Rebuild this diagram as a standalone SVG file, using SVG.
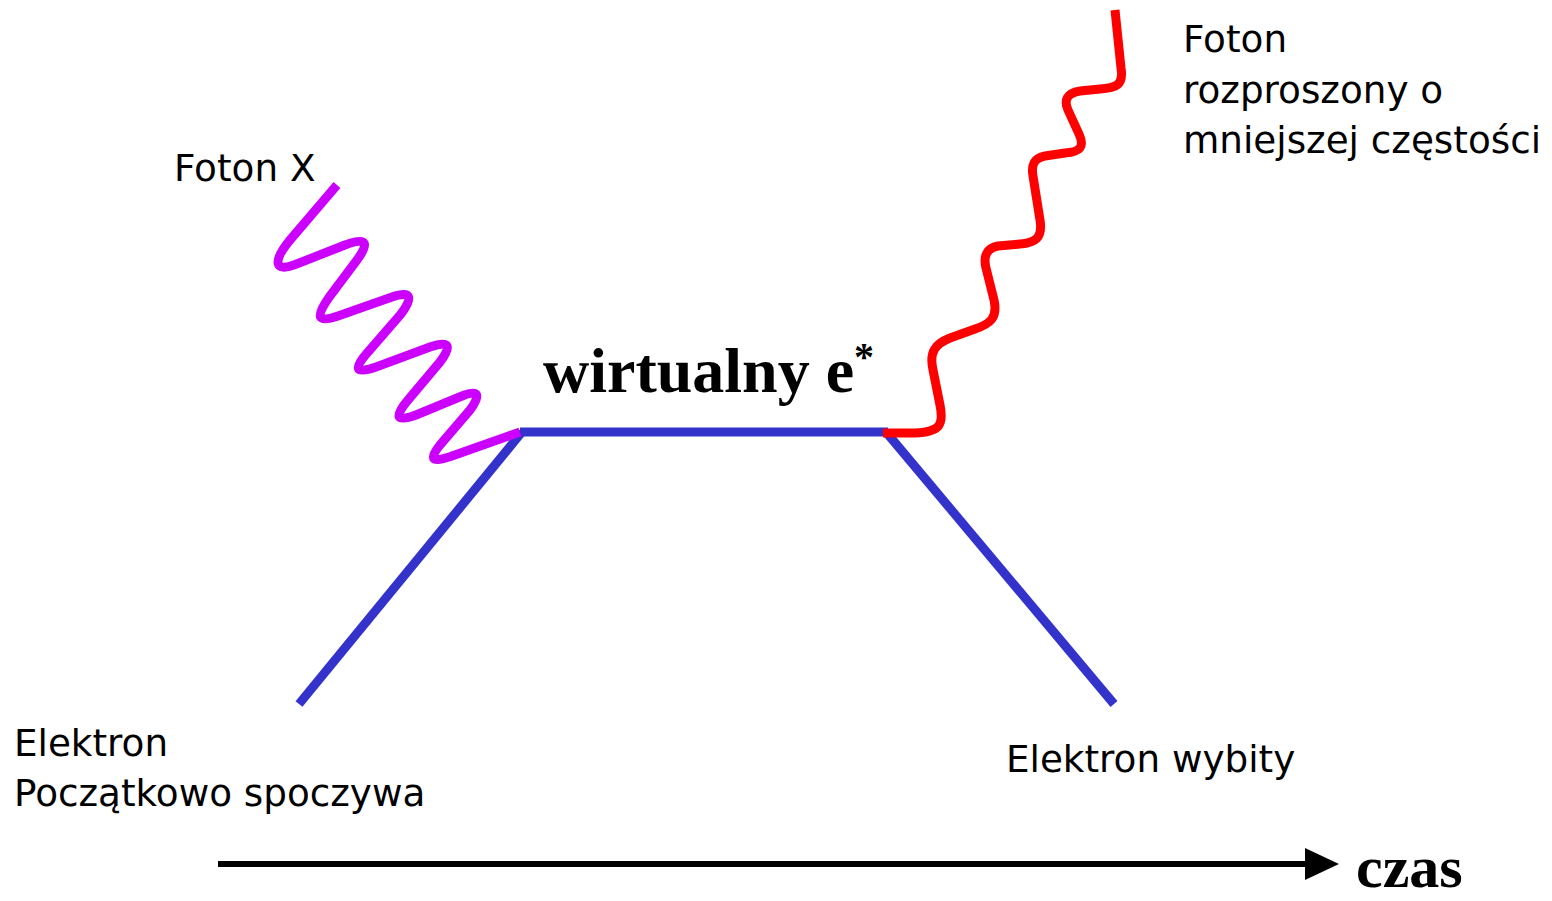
<svg xmlns="http://www.w3.org/2000/svg" width="1552" height="901" viewBox="0 0 1552 901">
<style>
.lbl{font-family:"DejaVu Sans",Verdana,sans-serif;font-size:37.3px;fill:#000}
.big{font-family:"Liberation Serif","Times New Roman",serif;font-weight:bold;fill:#000}
.e{fill:none;stroke:#3333CC;stroke-width:9}
.ph{fill:none;stroke-width:9;stroke-linecap:butt;stroke-linejoin:round}
</style>
<defs>
<marker id="ah" markerWidth="34" markerHeight="32" refX="0" refY="16" orient="auto" markerUnits="userSpaceOnUse">
<path d="M0,0 L34,16 L0,32 Z" fill="#000"/>
</marker>
</defs>
<rect width="1552" height="901" fill="#fff"/>
<g id="connectors">
<line id="e-in" class="e" x1="299" y1="704" x2="522" y2="432"/>
<line id="e-virtual" class="e" x1="520" y1="432" x2="888" y2="432"/>
<line id="e-out" class="e" x1="886" y1="432" x2="1114" y2="704"/>
<path id="photon-x" class="ph" stroke="#CC00FF" d="M337,185 L290,240 C272,262 275,272 294,265 L345,245 C368,236 369,244 357,260 L330,296 C314,318 318,323 338,316 L392,297 C412,290 413,298 401,314 L368,352 C352,370 356,374 376,367 L430,347 C450,340 452,346 440,362 L408,400 C393,418 397,422 416,415 L462,396 C479,389 481,395 470,410 L440,445 C428,460 432,463 452,456 L520,432"/>
<path id="photon-out" class="ph" stroke="#FF0000" d="M1115,10 L1121,68 C1124,86 1115,88 1100,89 L1080,91 C1066,93 1064,101 1068,110 L1079,134 C1085,147 1080,152 1065,153 L1045,156 C1034,158 1031,165 1033,176 L1040,220 C1043,238 1035,243 1020,244 L998,246 C987,248 983,256 986,268 L994,300 C998,318 990,324 975,329 L950,338 C935,344 929,352 933,370 L940,405 C944,425 940,432 915,433 L883,433"/>
<line id="time-axis" x1="218" y1="864" x2="1305" y2="864" stroke="#000" stroke-width="6" marker-end="url(#ah)"/>
</g>
<g id="label-foton-x"><text class="lbl" x="174" y="181">Foton X</text></g>
<g id="label-foton-out">
<text class="lbl" x="1183" y="52">Foton</text>
<text class="lbl" x="1183" y="103">rozproszony o</text>
<text class="lbl" x="1183" y="153">mniejszej częstości</text>
</g>
<g id="label-virtual"><text class="big" x="543" y="392" font-size="64">wirtualny e<tspan font-size="40" dy="-22">*</tspan></text></g>
<g id="label-e-in">
<text class="lbl" x="14" y="756">Elektron</text>
<text class="lbl" x="14" y="806">Początkowo spoczywa</text>
</g>
<g id="label-e-out"><text class="lbl" x="1006" y="772">Elektron wybity</text></g>
<g id="label-czas"><text class="big" x="1356" y="887" font-size="60">czas</text></g>
</svg>
